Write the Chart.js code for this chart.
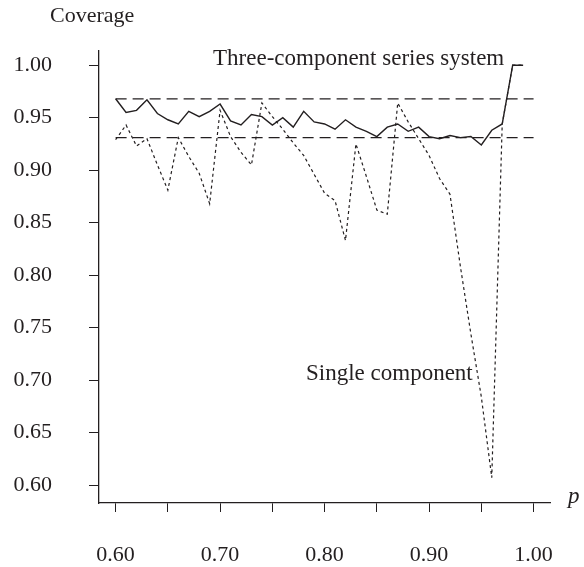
<!DOCTYPE html>
<html>
<head>
<meta charset="utf-8">
<script src="https://cdn.jsdelivr.net/npm/chart.js@4.4.1/dist/chart.umd.min.js"></script>
<style>
  html, body { margin: 0; padding: 0; background: #fff; }
  #wrap { width: 584px; height: 567px; }
</style>
</head>
<body>
<div id="wrap"><canvas id="grafico" width="584" height="567"></canvas></div>
<script>
// valores de p (eixo x)
const pValores = [0.60, 0.61, 0.62, 0.63, 0.64, 0.65, 0.66, 0.67, 0.68, 0.69,
                  0.70, 0.71, 0.72, 0.73, 0.74, 0.75, 0.76, 0.77, 0.78, 0.79,
                  0.80, 0.81, 0.82, 0.83, 0.84, 0.85, 0.86, 0.87, 0.88, 0.89,
                  0.90, 0.91, 0.92, 0.93, 0.94, 0.95, 0.96, 0.97, 0.98, 0.99];

// cobertura - sistema em série de três componentes
const coberturaSistema = [0.968, 0.955, 0.957, 0.967, 0.954, 0.948, 0.944, 0.956, 0.951, 0.956,
                          0.963, 0.947, 0.943, 0.953, 0.951, 0.943, 0.950, 0.941, 0.956, 0.946,
                          0.944, 0.939, 0.948, 0.941, 0.937, 0.932, 0.941, 0.944, 0.937, 0.941,
                          0.932, 0.930, 0.933, 0.931, 0.932, 0.924, 0.938, 0.944, 1.000, 1.000];

// cobertura - componente único
const coberturaUnico = [0.929, 0.943, 0.923, 0.930, 0.905, 0.881, 0.931, 0.913, 0.897, 0.868,
                        0.957, 0.932, 0.917, 0.905, 0.964, 0.951, 0.939, 0.926, 0.914, 0.896,
                        0.878, 0.871, 0.833, 0.925, 0.894, 0.862, 0.858, 0.964, 0.946, 0.930,
                        0.914, 0.892, 0.877, 0.808, 0.744, 0.684, 0.607, 0.944, 1.000, 1.000];

// limites de referência (linhas tracejadas)
const limiteSuperior = 0.968;
const limiteInferior = 0.931;
const refInicio = 0.60;
const refFim = 1.00;

// ticks
const xTicks = [0.60, 0.65, 0.70, 0.75, 0.80, 0.85, 0.90, 0.95, 1.00];
const xTickLabels = ['0.60', '', '0.70', '', '0.80', '', '0.90', '', '1.00'];
const yTicks = [0.60, 0.65, 0.70, 0.75, 0.80, 0.85, 0.90, 0.95, 1.00];
const yTickLabels = ['0.60', '0.65', '0.70', '0.75', '0.80', '0.85', '0.90', '0.95', '1.00'];

const tinta = '#231f20';
const fonte = "'Liberation Serif', 'Times New Roman', serif";

const pontos = serie => pValores.map((p, i) => ({ x: p, y: serie[i] }));

// textos soltos do gráfico
const textosPlugin = {
  id: 'textos',
  afterDraw(chart) {
    const ctx = chart.ctx;
    ctx.save();
    ctx.fillStyle = tinta;
    ctx.textBaseline = 'alphabetic';
    ctx.textAlign = 'left';
    ctx.font = `22px ${fonte}`;
    ctx.fillText('Coverage', 50, 22);
    ctx.font = `23px ${fonte}`;
    ctx.fillText('Three-component series system', 213, 65);
    ctx.fillText('Single component', 306, 380);
    ctx.font = `italic 23px ${fonte}`;
    ctx.fillText('p', 568, 503);
    ctx.restore();
  }
};

const ctx = document.getElementById('grafico').getContext('2d');
new Chart(ctx, {
  type: 'line',
  data: {
    datasets: [
      {
        label: 'Three-component series system',
        data: pontos(coberturaSistema),
        borderColor: tinta,
        borderWidth: 1.4,
        pointRadius: 0,
        tension: 0
      },
      {
        label: 'Single component',
        data: pontos(coberturaUnico),
        borderColor: tinta,
        borderWidth: 1.2,
        borderDash: [3, 3],
        pointRadius: 0,
        tension: 0
      },
      {
        label: 'upper',
        data: [{ x: refInicio, y: limiteSuperior }, { x: refFim, y: limiteSuperior }],
        borderColor: tinta,
        borderWidth: 1.3,
        borderDash: [11, 6],
        pointRadius: 0
      },
      {
        label: 'lower',
        data: [{ x: refInicio, y: limiteInferior }, { x: refFim, y: limiteInferior }],
        borderColor: tinta,
        borderWidth: 1.3,
        borderDash: [11, 6],
        pointRadius: 0
      }
    ]
  },
  options: {
    responsive: false,
    animation: false,
    layout: { padding: { left: 0, right: 31, top: 50, bottom: 0 } },
    plugins: {
      legend: { display: false },
      tooltip: { enabled: false }
    },
    scales: {
      x: {
        type: 'linear',
        min: 0.5841,
        max: 1.0165,
        afterBuildTicks: s => { s.ticks = xTicks.map(v => ({ value: v })); },
        afterFit: s => { s.height = 64; },
        ticks: {
          autoSkip: false,
          maxRotation: 0,
          padding: 30,
          color: tinta,
          font: { family: fonte, size: 22 },
          callback: (val, i) => xTickLabels[i]
        },
        grid: { drawOnChartArea: false, drawTicks: true, tickLength: 9, color: tinta, lineWidth: 1 },
        border: { display: true, color: tinta, width: 1.3 }
      },
      y: {
        type: 'linear',
        min: 0.58286,
        max: 1.01429,
        afterBuildTicks: s => { s.ticks = yTicks.map(v => ({ value: v })); },
        afterFit: s => { s.width = 99; },
        ticks: {
          padding: 37,
          color: tinta,
          font: { family: fonte, size: 22 },
          callback: (val, i) => yTickLabels[i]
        },
        grid: { drawOnChartArea: false, drawTicks: true, tickLength: 10, color: tinta, lineWidth: 1 },
        border: { display: true, color: tinta, width: 1.3 }
      }
    }
  },
  plugins: [textosPlugin]
});
</script>
</body>
</html>
